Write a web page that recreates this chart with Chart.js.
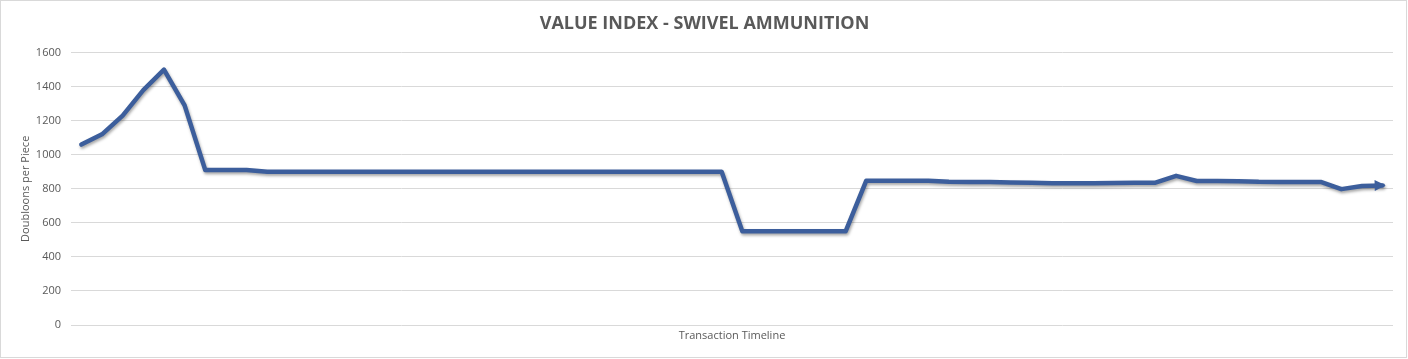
<!DOCTYPE html>
<html>
<head>
<meta charset="utf-8">
<script src="https://cdn.jsdelivr.net/npm/chart.js@4.4.1/dist/chart.umd.min.js"></script>
<style>
  html, body { margin: 0; padding: 0; background: #fff; }
  #wrap { width: 1408px; height: 359px; }
</style>
</head>
<body>
<div id="wrap"><canvas id="chart" width="1408" height="359"></canvas></div>
<script>
// chart text
const chartTitle = "VALUE INDEX - SWIVEL AMMUNITION";
const yTitle = "Doubloons per Piece";
const xTitle = "Transaction Timeline";

// value per transaction
const doubloons = [
    1060, 1120, 1230, 1380, 1500, 1290, 910, 910, 910, 900,
    900, 900, 900, 900, 900, 900, 900, 900, 900, 900,
    900, 900, 900, 900, 900, 900, 900, 900, 900, 900,
    900, 900, 550, 550, 550, 550, 550, 550, 848, 848,
    848, 848, 842, 840, 840, 837, 836, 832, 832, 832,
    834, 835, 836, 876, 846, 846, 845, 841, 840, 840,
    840, 798, 817, 820
];
// transaction numbers, no tick labels are shown
const transactions = doubloons.map((_, i) => String(i + 1));

const yTicks = { min: 0, max: 1600, step: 200 };

const lineColor = "rgb(60, 94, 156)";
const textColor = "#595959";
const gridColor = "#d9d9d9";

// frame round the whole picture
const framePlugin = {
    id: "frame",
    beforeDraw(chart) {
        const c = chart.ctx;
        c.save();
        c.fillStyle = "#fff";
        c.fillRect(0, 0, chart.width, chart.height);
        c.strokeStyle = gridColor;
        c.lineWidth = 1;
        c.strokeRect(0.5, 0.5, chart.width - 2, chart.height - 2);
        c.restore();
    }
};

// soft shadow under the line, like the office chart
const shadowPlugin = {
    id: "lineShadow",
    beforeDatasetDraw(chart) {
        const c = chart.ctx;
        c.save();
        c.shadowColor = "rgba(0, 0, 0, 0.35)";
        c.shadowBlur = 3;
        c.shadowOffsetX = 1;
        c.shadowOffsetY = 2;
    },
    afterDatasetDraw(chart) {
        chart.ctx.restore();
    }
};

// arrow head on the last point
const arrowPlugin = {
    id: "arrowEnd",
    afterDatasetsDraw(chart) {
        const pts = chart.getDatasetMeta(0).data;
        const a = pts[pts.length - 2], b = pts[pts.length - 1];
        const ang = Math.atan2(b.y - a.y, b.x - a.x);
        const c = chart.ctx;
        c.save();
        c.translate(b.x + 1, b.y);
        c.rotate(ang);
        c.fillStyle = lineColor;
        c.beginPath();
        c.moveTo(2, 0);
        c.lineTo(-9, -5.5);
        c.lineTo(-9, 5.5);
        c.closePath();
        c.fill();
        c.restore();
    }
};

let ctx = document.getElementById("chart").getContext("2d");
let chart = new Chart(ctx, {
    type: "line",
    data: {
        labels: transactions,
        datasets: [{
            label: yTitle,
            data: doubloons,
            borderColor: lineColor,
            backgroundColor: lineColor,
            borderWidth: 4.5,
            borderJoinStyle: "round",
            borderCapStyle: "round",
            pointRadius: 0,
            tension: 0
        }]
    },
    options: {
        responsive: false,
        animation: false,
        layout: {
            padding: { left: 16, right: 15, top: 0, bottom: 17 }
        },
        plugins: {
            legend: { display: false },
            tooltip: { enabled: false },
            title: {
                display: true,
                text: chartTitle,
                color: textColor,
                font: { family: "'Open Sans', sans-serif", size: 18, weight: "bold" },
                padding: { top: 13, bottom: 18 }
            }
        },
        scales: {
            x: {
                type: "category",
                offset: true,
                grid: { display: false },
                border: { display: false },
                ticks: { display: false },
                title: {
                    display: true,
                    text: xTitle,
                    color: textColor,
                    font: { family: "'Open Sans', sans-serif", size: 11 },
                    padding: { top: 0, bottom: 0 }
                },
                afterFit(scale) { scale.height = 17; }
            },
            y: {
                min: yTicks.min,
                max: yTicks.max,
                grid: { color: gridColor, drawTicks: false },
                border: { display: false },
                ticks: {
                    stepSize: yTicks.step,
                    color: textColor,
                    padding: 10,
                    font: { family: "'Open Sans', sans-serif", size: 11 },
                    callback: (v) => String(v)
                },
                title: {
                    display: true,
                    text: yTitle,
                    color: textColor,
                    font: { family: "'Open Sans', sans-serif", size: 11 },
                    padding: { top: 3, bottom: 0 }
                },
                afterFit(scale) { scale.width = 55; }
            }
        }
    },
    plugins: [framePlugin, shadowPlugin, arrowPlugin]
});
</script>
</body>
</html>
